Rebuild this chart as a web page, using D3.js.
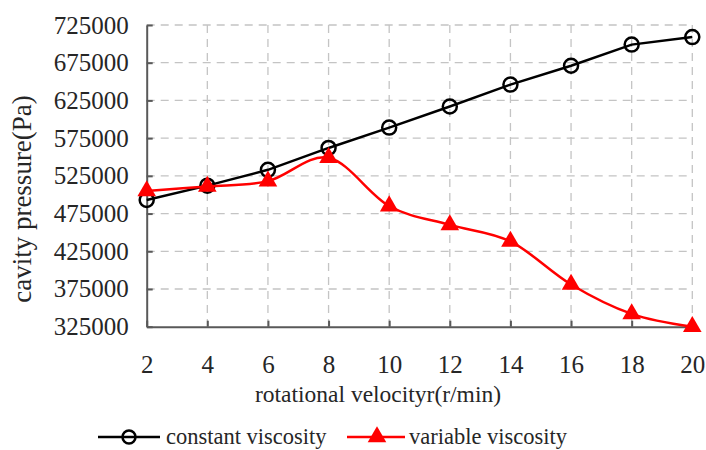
<!DOCTYPE html>
<html>
<head>
<meta charset="utf-8">
<script src="https://cdn.jsdelivr.net/npm/d3@7"></script>
<style>
  html, body { margin: 0; padding: 0; background: #fff; }
  svg { display: block; }
  text { font-family: "Liberation Serif", "Times New Roman", serif; fill: #262626; }
</style>
</head>
<body>
<svg id="chart" width="706" height="450"></svg>
<script>
// Rotational velocity (r/min)
const speeds = [2, 4, 6, 8, 10, 12, 14, 16, 18, 20];
// Cavity pressure (Pa)
const constantViscosity = [493000, 512000, 533000, 562000, 589000, 617000, 646000, 671000, 699000, 709000];
const variableViscosity = [505000, 511000, 518000, 549000, 485000, 460000, 438000, 381000, 342000, 325000];
const yTicks = [325000, 375000, 425000, 475000, 525000, 575000, 625000, 675000, 725000];
const xTicks = [2, 4, 6, 8, 10, 12, 14, 16, 18, 20];
const seriesNames = ["constant viscosity", "variable viscosity"];

const serif = "'Liberation Serif', 'Times New Roman', serif";
const svg = d3.select("#chart");
const plotLeft = 146.7, plotRight = 692.3, plotTop = 25, plotBottom = 326.7;

const x = d3.scaleLinear().domain([2, 20]).range([plotLeft, plotRight]);
const y = d3.scaleLinear().domain([325000, 725000]).range([plotBottom, plotTop]);

const gridColor = "#c4c4c4";
const axisColor = "#595959";

// Gridlines
const grid = svg.append("g");
grid.selectAll("line.h").data(yTicks.slice(1)).join("line")
  .attr("class", "h")
  .attr("x1", plotLeft).attr("x2", plotRight)
  .attr("y1", d => y(d)).attr("y2", d => y(d))
  .attr("stroke", gridColor).attr("stroke-width", 1.3)
  .attr("stroke-dasharray", "8,6");
grid.selectAll("line.v").data(xTicks.slice(1)).join("line")
  .attr("class", "v")
  .attr("x1", d => x(d)).attr("x2", d => x(d))
  .attr("y1", plotTop).attr("y2", plotBottom)
  .attr("stroke", gridColor).attr("stroke-width", 1.3)
  .attr("stroke-dasharray", "8,6");

// Axes (ticks point into the plot)
const yAxis = svg.append("g").attr("transform", `translate(${plotLeft},0)`)
  .call(d3.axisLeft(y).tickValues(yTicks).tickFormat(d3.format("d")).tickSizeInner(-6).tickSizeOuter(0).tickPadding(18));
const xAxis = svg.append("g").attr("transform", `translate(0,${plotBottom})`)
  .call(d3.axisBottom(x).tickValues(xTicks).tickFormat(d3.format("d")).tickSizeInner(-6).tickSizeOuter(0).tickPadding(29));
[yAxis, xAxis].forEach(a => {
  a.attr("font-family", serif).attr("font-size", 25);
  a.select(".domain").attr("stroke", axisColor).attr("stroke-width", 2);
  a.selectAll(".tick line").attr("stroke", axisColor).attr("stroke-width", 2);
  a.selectAll(".tick text").attr("fill", "#262626").style("font-family", serif).style("font-size", "25px");
});

// Axis titles
svg.append("text").attr("x", 378).attr("y", 402)
  .attr("text-anchor", "middle").style("font-size", "23.5px")
  .text("rotational velocityr(r/min)");
svg.append("text").attr("transform", "translate(31,199) rotate(-90)")
  .attr("text-anchor", "middle").style("font-size", "27px")
  .text("cavity pressure(Pa)");

// Series
const blackLine = d3.line().x((d, i) => x(speeds[i])).y(d => y(d));
const redLine = d3.line().x((d, i) => x(speeds[i])).y(d => y(d)).curve(d3.curveCatmullRom.alpha(0));

svg.append("path").datum(constantViscosity).attr("d", blackLine)
  .attr("fill", "none").attr("stroke", "#000").attr("stroke-width", 2.5);
svg.append("g").selectAll("circle").data(constantViscosity).join("circle")
  .attr("cx", (d, i) => x(speeds[i])).attr("cy", d => y(d)).attr("r", 7)
  .attr("fill", "none").attr("stroke", "#000").attr("stroke-width", 2.5);

const tri = d3.symbol().type(d3.symbolTriangle).size(150);
svg.append("path").datum(variableViscosity).attr("d", redLine)
  .attr("fill", "none").attr("stroke", "#ff0000").attr("stroke-width", 2.5);
svg.append("g").selectAll("path").data(variableViscosity).join("path")
  .attr("d", tri)
  .attr("transform", (d, i) => `translate(${x(speeds[i])},${y(d)})`)
  .attr("fill", "#ff0000");

// Legend
const legend = svg.append("g");
legend.append("line").attr("x1", 98).attr("x2", 160).attr("y1", 437).attr("y2", 437)
  .attr("stroke", "#000").attr("stroke-width", 2.5);
legend.append("circle").attr("cx", 129).attr("cy", 437).attr("r", 6.5)
  .attr("fill", "none").attr("stroke", "#000").attr("stroke-width", 2.5);
legend.append("text").attr("x", 166).attr("y", 444).style("font-size", "22.5px").text(seriesNames[0]);
legend.append("line").attr("x1", 347).attr("x2", 405).attr("y1", 437).attr("y2", 437)
  .attr("stroke", "#ff0000").attr("stroke-width", 2.5);
legend.append("path").attr("d", tri).attr("transform", "translate(377,437)").attr("fill", "#ff0000");
legend.append("text").attr("x", 409).attr("y", 444).style("font-size", "22.5px").text(seriesNames[1]);
</script>
</body>
</html>
